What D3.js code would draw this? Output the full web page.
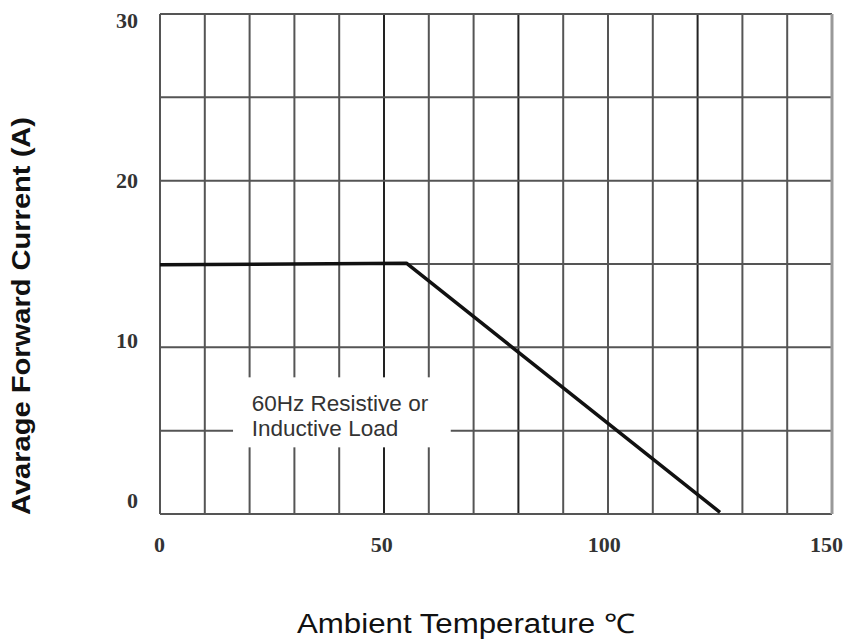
<!DOCTYPE html>
<html><head><meta charset="utf-8">
<script src="https://cdn.jsdelivr.net/npm/d3@7"></script>
<style>body{margin:0;background:#fff}svg{display:block}</style>
</head><body>
<svg id="c" width="849" height="640"></svg>
<script>
const xTicks = [0, 50, 100, 150];
const yTicks = [0, 10, 20, 30];
const xGrid = [0,10,20,30,40,50,60,70,80,90,100,110,120,130,140,150];
const yGrid = [0,5,10,15,20,25,30];
const tempC = [0, 55, 125];
const currentA = [14.95, 15.05, 0.1];
const noteLines = ["60Hz Resistive or", "Inductive Load"];
const xTitle = "Ambient Temperature \u2103";
const yTitle = "Avarage Forward Current (A)";

const svg = d3.select("#c");
const L = 160, R = 832, T = 14, B = 514;
const x = d3.scaleLinear().domain([0,150]).range([L,R]);
const y = d3.scaleLinear().domain([0,30]).range([B,T]);
// tick labels in the source are printed slightly off the grid
const xLab = d3.scaleLinear().domain([0,150]).range([159,826]);
const yLab = d3.scaleLinear().domain([0,30]).range([500,20]);

const g = svg.append("g");
g.selectAll("line.v").data(xGrid).join("line").attr("class","v")
  .attr("x1",d=>x(d)).attr("x2",d=>x(d)).attr("y1",T).attr("y2",B)
  .attr("stroke",d=>(d===50||d===80||d===120)?"#222":"#555").attr("stroke-width",2);
g.selectAll("line.h").data(yGrid).join("line").attr("class","h")
  .attr("y1",d=>y(d)).attr("y2",d=>y(d)).attr("x1",L).attr("x2",R)
  .attr("stroke","#555").attr("stroke-width",2);
g.append("line").attr("x1",x(150)).attr("x2",x(150)).attr("y1",T).attr("y2",B)
  .attr("stroke","#999").attr("stroke-width",3);

// note box
svg.append("rect").attr("x",x(16.3)).attr("y",y(8.2)).attr("width",x(64.9)-x(16.3)).attr("height",y(4)-y(8.2)).attr("fill","#fff");
svg.append("g").selectAll("text").data(noteLines).join("text")
  .attr("x",x(20.5)).attr("y",(d,i)=>411+i*25)
  .attr("font-family","Arial, 'Liberation Sans', sans-serif").attr("font-size",22.5).attr("fill","#333")
  .text(d=>d);

// curve
const line = d3.line().x((d,i)=>x(tempC[i])).y((d,i)=>y(currentA[i]));
svg.append("path").datum(tempC).attr("d",line).attr("fill","none")
  .attr("stroke","#111").attr("stroke-width",3.5).attr("stroke-linejoin","round");

// axes
const xAxis = d3.axisBottom(xLab).tickValues(xTicks).tickSize(0).tickPadding(22).tickFormat(d3.format("d"));
const xa = svg.append("g").attr("transform",`translate(0,${B})`).call(xAxis);
const yAxis = d3.axisLeft(yLab).tickValues(yTicks).tickSize(0).tickPadding(22).tickFormat(d3.format("d"));
const ya = svg.append("g").attr("transform",`translate(${L},0)`).call(yAxis);
[xa,ya].forEach(a=>{
  a.select(".domain").remove();
  a.selectAll("text").attr("font-family","'Liberation Serif','Times New Roman',serif")
   .attr("font-weight","bold").attr("font-size",22).attr("fill","#333");
});

svg.append("text").attr("x",466).attr("y",633).attr("text-anchor","middle")
  .attr("font-family","Arial, 'Liberation Sans', sans-serif").attr("font-size",27).attr("fill","#111")
  .attr("textLength",338).attr("lengthAdjust","spacingAndGlyphs")
  .text(xTitle);
svg.append("text").attr("transform","translate(30,316) rotate(-90)").attr("text-anchor","middle")
  .attr("font-family","Arial, 'Liberation Sans', sans-serif").attr("font-weight","bold").attr("font-size",25).attr("fill","#111")
  .attr("textLength",398).attr("lengthAdjust","spacingAndGlyphs")
  .text(yTitle);
</script>
</body></html>
